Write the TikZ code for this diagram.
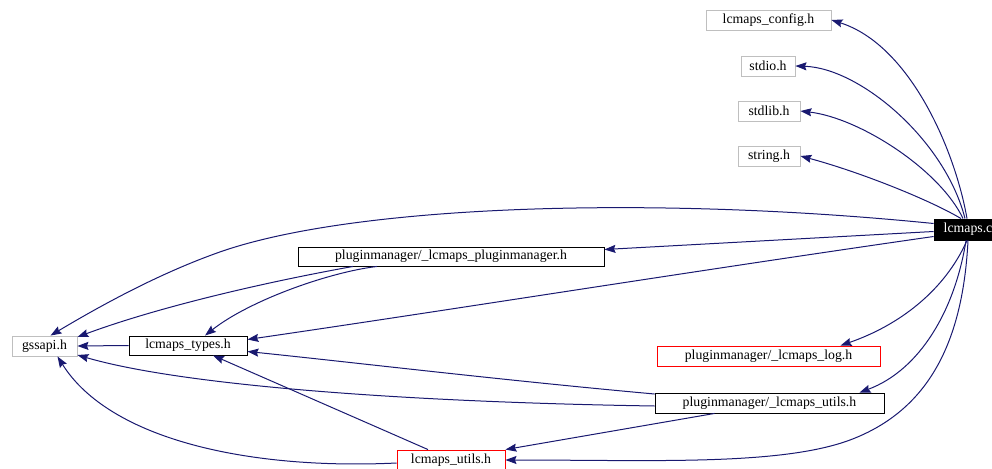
\documentclass[tikz,border=0pt]{standalone}
\usepackage{fontspec}
\setmainfont{Liberation Serif}
\usetikzlibrary{arrows.meta}
\definecolor{edgeblue}{RGB}{25,25,112}
\definecolor{extgray}{RGB}{191,191,191}
\tikzset{
  file/.style={draw, rectangle, minimum height=20pt, inner sep=0pt, line width=0.9pt,
    font=\fontsize{13.8}{14}\selectfont},
  extfile/.style={file, draw=extgray},
  docfile/.style={file, draw=black},
  warnfile/.style={file, draw=red},
  mainfile/.style={file, draw=black, fill=black, text=white},
  dep/.style={draw=edgeblue, line width=1pt,
    -{Stealth[length=11pt, width=8pt, inset=1.5pt]}},
}
\begin{document}
\begin{tikzpicture}[x=1pt, y=-1pt]
\useasboundingbox (0,0) rectangle (992,468);

% nodes
\node[extfile, minimum width=125pt] (cfg) at (768.5,20) {lcmaps\_config.h};
\node[extfile, minimum width=54pt] (stdio) at (768,66) {stdio.h};
\node[extfile, minimum width=62pt] (stdlib) at (769,111) {stdlib.h};
\node[extfile, minimum width=62pt] (string) at (769,156) {string.h};
\node[mainfile, minimum width=68pt, minimum height=21pt] (lc) at (968,229.5) {lcmaps.c};
\node[docfile, minimum width=306pt, minimum height=19pt] (pm) at (451,256.5) {pluginmanager/\_lcmaps\_pluginmanager.h};
\node[extfile, minimum width=65pt] (gss) at (44.5,346) {gssapi.h};
\node[docfile, minimum width=118pt, minimum height=19pt] (types) at (188,345.5) {lcmaps\_types.h};
\node[warnfile, minimum width=223pt] (log) at (768.5,356) {pluginmanager/\_lcmaps\_log.h};
\node[docfile, minimum width=229pt] (putils) at (769.5,403) {pluginmanager/\_lcmaps\_utils.h};
\node[warnfile, minimum width=108pt] (lutils) at (451,460) {lcmaps\_utils.h};

% lcmaps.c dependencies
\draw[dep] ([xshift=-1pt]lc.north) .. controls (955,150) and (910,45) .. (cfg.east);
\draw[dep] ([xshift=-3pt]lc.north) .. controls (945,140) and (860,68) .. (stdio.east);
\draw[dep] ([xshift=-5pt]lc.north) .. controls (940,170) and (860,118) .. (stdlib.east);
\draw[dep] ([xshift=-7pt]lc.north) .. controls (930,200) and (860,172) .. (string.east);
\draw[dep] ([yshift=6pt]lc.west) .. controls (650,195) and (350,205) .. (217,253)
  .. controls (164,272) and (110,300) .. ([xshift=6pt]gss.north);
\draw[dep] ([yshift=-2pt]lc.west) -- ([yshift=7pt]pm.east);
\draw[dep] ([yshift=-7pt]lc.west) .. controls (700,270) and (450,310) .. ([yshift=6pt]types.east);
\draw[dep] ([xshift=-1pt]lc.south) .. controls (945,290) and (900,325) .. ([xshift=72pt]log.north);
\draw[dep] ([xshift=-2pt]lc.south) .. controls (955,310) and (920,370) .. ([xshift=90pt]putils.north);
\draw[dep] (lc.south) .. controls (963,340) and (930,410) .. (850,440)
  .. controls (780,466) and (650,460) .. (lutils.east);

% pluginmanager dependencies
\draw[dep] ([xshift=-98pt]pm.south) .. controls (250,285) and (150,310) .. ([yshift=9pt]gss.east);
\draw[dep] ([xshift=-74pt]pm.south) .. controls (330,272) and (250,300) .. ([xshift=17pt]types.north);

% lcmaps_types dependency
\draw[dep] (types.west) -- (gss.east);

% pluginmanager utils dependencies
\draw[dep] ([yshift=9pt]putils.west) .. controls (500,380) and (350,362) .. ([yshift=-6pt]types.east);
\draw[dep] ([yshift=-3pt]putils.west) .. controls (400,402) and (180,385) .. ([yshift=-9pt]gss.east);
\draw[dep] ([xshift=-55pt]putils.south) -- (lutils.north east);

% lcmaps_utils dependencies
\draw[dep] ([xshift=-23pt]lutils.north) -- ([xshift=25pt]types.south);
\draw[dep] ([yshift=-3pt]lutils.west) .. controls (250,470) and (110,440) .. ([xshift=13pt]gss.south);
\end{tikzpicture}
\end{document}
